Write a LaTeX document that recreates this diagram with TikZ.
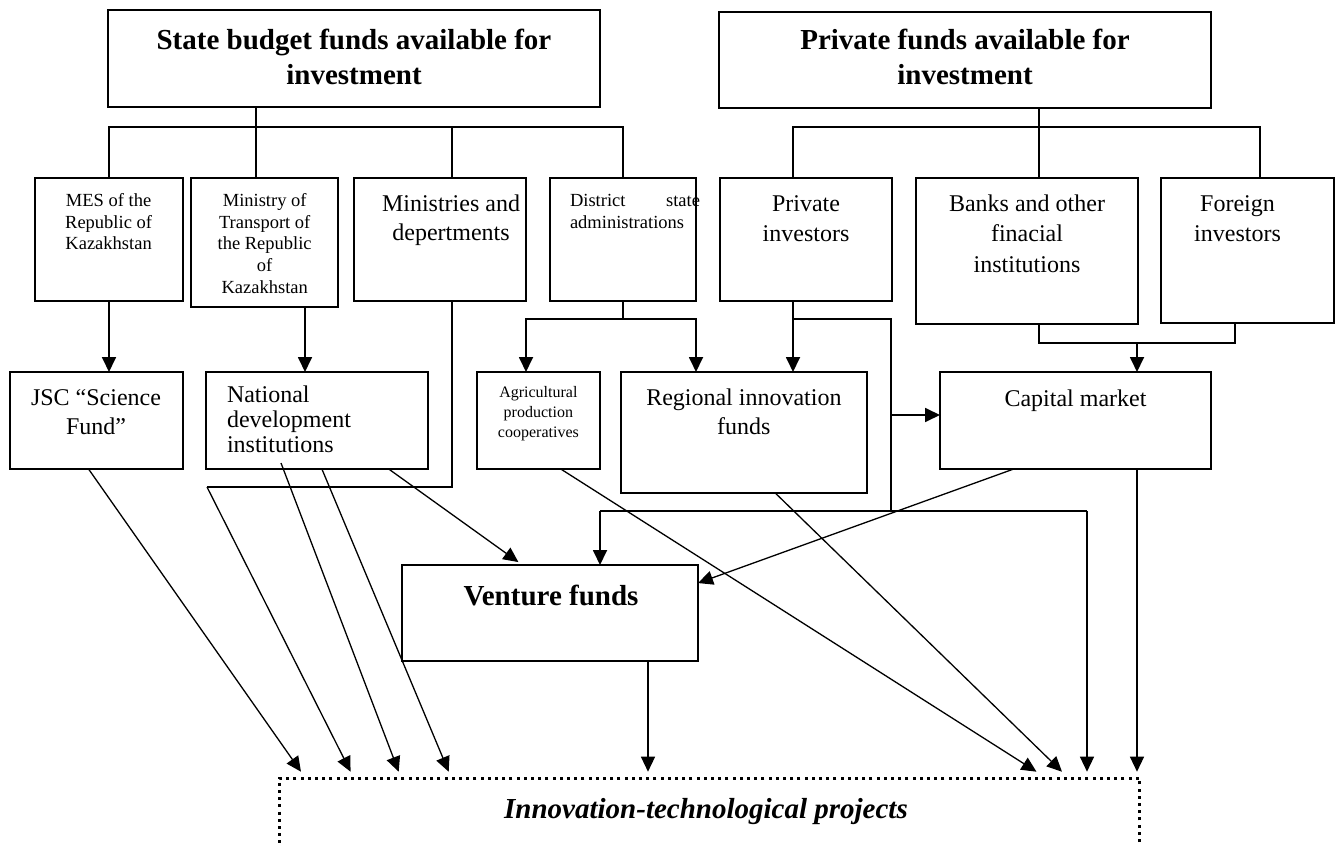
\documentclass[tikz,border=0pt]{standalone}
\usepackage{fontspec}
\setmainfont{Liberation Serif}
\usetikzlibrary{arrows.meta,calc}
\newcommand\myfs[2]{\fontsize{#1}{#2}\selectfont}
\begin{document}
\begin{tikzpicture}[x=1pt,y=-1pt,
  box/.style={draw,line width=1.8pt,inner sep=0pt,outer sep=0pt},
  txt/.style={inner sep=0pt,outer sep=0pt,align=center},
  tree/.style={line width=1.8pt},
  con/.style={line width=1.3pt},
  arr/.style={-{Triangle[length=15pt,width=14pt]}}]
\clip (0,0) rectangle (1336,845);
\fill[white] (0,0) rectangle (1336,845);
% boxes
\node[box,minimum width=492pt,minimum height=97pt] (state) at (354,58.5) {};
\node[box,minimum width=492pt,minimum height=96pt] (priv) at (965,60) {};
\node[box,minimum width=148pt,minimum height=123pt] (mes) at (109,239.5) {};
\node[box,minimum width=147pt,minimum height=129pt] (mot) at (264.5,242.5) {};
\node[box,minimum width=172pt,minimum height=123pt] (mins) at (440,239.5) {};
\node[box,minimum width=146pt,minimum height=123pt] (dist) at (623,239.5) {};
\node[box,minimum width=172pt,minimum height=123pt] (pinv) at (806,239.5) {};
\node[box,minimum width=222pt,minimum height=146pt] (banks) at (1027,251) {};
\node[box,minimum width=173pt,minimum height=145pt] (forg) at (1247.5,250.5) {};
\node[box,minimum width=173pt,minimum height=97pt] (jsc) at (96.5,420.5) {};
\node[box,minimum width=222pt,minimum height=97pt] (nat) at (317,420.5) {};
\node[box,minimum width=123pt,minimum height=97pt] (agr) at (538.5,420.5) {};
\node[box,minimum width=246pt,minimum height=121pt] (reg) at (744,432.5) {};
\node[box,minimum width=271pt,minimum height=97pt] (cap) at (1075.5,420.5) {};
\node[box,minimum width=296pt,minimum height=96pt] (ven) at (550,613) {};
\node[draw,line width=3pt,dash pattern=on 3pt off 4.2pt,inner sep=0pt,outer sep=0pt,
      minimum width=860pt,minimum height=140pt] (proj) at (709.5,848) {};
% texts
\node[txt,anchor=north,font=\bfseries\myfs{29}{35.7}] (statet) at (354,24.3) {\strut State budget funds available for\\investment};
\node[txt,anchor=north,font=\bfseries\myfs{29}{35.7}] (privt) at (965,24.3) {\strut Private funds available for\\investment};
\node[txt,anchor=north,font=\myfs{18.5}{21.7}] (mest) at (108.6,191.3) {\strut MES of the\\Republic of\\Kazakhstan};
\node[txt,anchor=north,font=\myfs{18.5}{21.7}] (mott) at (264.7,191.3) {\strut Ministry of\\Transport of\\the Republic\\of\\Kazakhstan};
\node[txt,anchor=north,font=\myfs{24}{29}] (minst) at (451,190.9) {\strut Ministries and\\depertments};
\node[txt,anchor=north west,align=left,font=\myfs{18.5}{21.7}] (distt) at (570,191.3) {\strut\makebox[130pt][l]{District\hfill state}\\administrations};
\node[txt,anchor=north,font=\myfs{24}{30.5}] (pinvt) at (806,189.85) {\strut Private\\investors};
\node[txt,anchor=north,font=\myfs{24}{30.5}] (bankst) at (1027,189.85) {\strut Banks and other\\finacial\\institutions};
\node[txt,anchor=north,font=\myfs{24}{30.5}] (forgt) at (1237.5,189.85) {\strut Foreign\\investors};
\node[txt,anchor=north,font=\myfs{24}{29}] (jsct) at (96,384.9) {\strut JSC “Science\\Fund”};
\node[txt,anchor=north west,align=left,font=\myfs{24}{25}] (natt) at (227,384.7) {\strut National\\development\\institutions};
\node[txt,anchor=north,font=\myfs{16}{20}] (agrt) at (538.4,383.8) {\strut Agricultural\\production\\cooperatives};
\node[txt,anchor=north,font=\myfs{24}{29}] (regt) at (743.9,384.9) {\strut Regional innovation\\funds};
\node[txt,anchor=base,font=\myfs{24}{29}] (capt) at (1075.5,406.2) {Capital market};
\node[txt,anchor=base,font=\bfseries\myfs{29}{35}] (vent) at (551,605) {Venture funds};
\node[txt,anchor=base,font=\bfseries\itshape\myfs{29}{35}] (projt) at (706,818) {Innovation-technological projects};
% state tree
\coordinate (sb) at (256,127);
\coordinate (mb) at (452,127);
\draw[tree] (sb |- state.south) -- (sb);
\draw[tree] (mes.north) -- (mes.north |- sb) -- (dist.north |- sb) -- (dist.north);
\draw[tree] (sb) -- (sb |- mot.north);
\draw[tree] (mb) -- (mb |- mins.north);
% private tree
\coordinate (pb) at (1039,127);
\coordinate (pl) at (793,127);
\coordinate (pr) at (1260,127);
\draw[tree] (pb |- priv.south) -- (pb);
\draw[tree] (pl |- pinv.north) -- (pl) -- (pr) -- (pr |- forg.north);
\draw[tree] (pb) -- (pb |- banks.north);
% second level
\draw[tree,arr] (mes.south) -- (mes.south |- jsc.north);
\coordinate (mtx) at (305,0);
\draw[tree,arr] (mtx |- mot.south) -- (mtx |- nat.north);
\coordinate (dl) at (526,319);
\coordinate (dr) at (696,319);
\draw[tree] (dist.south) -- (dist.south |- dl);
\draw[tree,arr] (dist.south |- dl) -- (dl) -- (dl |- agr.north);
\draw[tree,arr] (dist.south |- dr) -- (dr) -- (dr |- reg.north);
\coordinate (pj) at (793,319);
\coordinate (pk) at (891,319);
\coordinate (pm) at (891,511);
\coordinate (pc) at (891,415);
\draw[tree,arr] (pj |- pinv.south) -- (pj |- reg.north);
\draw[tree] (pj) -- (pk) -- (pm);
\draw[tree,arr] (pc) -- (cap.west |- pc);
\coordinate (bl) at (1039,343);
\coordinate (br) at (1235,343);
\coordinate (bf) at (1137,343);
\draw[tree] (bl |- banks.south) -- (bl) -- (br) -- (br |- forg.south);
\draw[tree,arr] (bf) -- (bf |- cap.north);
% long horizontal to venture
\coordinate (hl) at (600,511);
\coordinate (hr) at (1087,511);
\draw[tree] (hl) -- (hr);
\draw[tree,arr] (hl) -- (hl |- ven.north);
% ministries route
\coordinate (mk) at (207,487);
\draw[tree] (mb |- mins.south) -- (mb |- mk) -- (mk);
% targets on projects
\coordinate (t1) at (301,771.7);
\coordinate (t2) at (350.6,771.7);
\coordinate (t3) at (398.7,771.7);
\coordinate (t4) at (448.7,771.7);
\coordinate (t5) at (648,771.7);
\coordinate (t6) at (1036.5,771.7);
\coordinate (t7) at (1062,771.7);
\coordinate (t8) at (1087,771.7);
\coordinate (t9) at (1137,771.7);
\draw[con,arr] ($(jsc.south west)!0.454!(jsc.south east)$) -- (t1);
\draw[con,arr] (mk) -- (t2);
\draw[con,arr] (281,463) -- (t3);
\draw[con,arr] ($(nat.south west)!0.522!(nat.south east)$) -- (t4);
\draw[con,arr] (t5 |- ven.south) -- (t5);
\draw[con,arr] ($(agr.south west)!0.681!(agr.south east)$) -- (t6);
\draw[con,arr] ($(reg.south west)!0.627!(reg.south east)$) -- (t7);
\draw[con,arr] (hr) -- (t8);
\draw[con,arr] (bf |- cap.south) -- (t9);
% to venture
\draw[con,arr,shorten >=5pt] ($(nat.south west)!0.823!(nat.south east)$) -- ($(ven.north west)!0.407!(ven.north east)$);
\draw[con,arr] ($(cap.south west)!0.272!(cap.south east)$) -- ($(ven.north east)!0.188!(ven.south east)$);
\end{tikzpicture}
\end{document}
